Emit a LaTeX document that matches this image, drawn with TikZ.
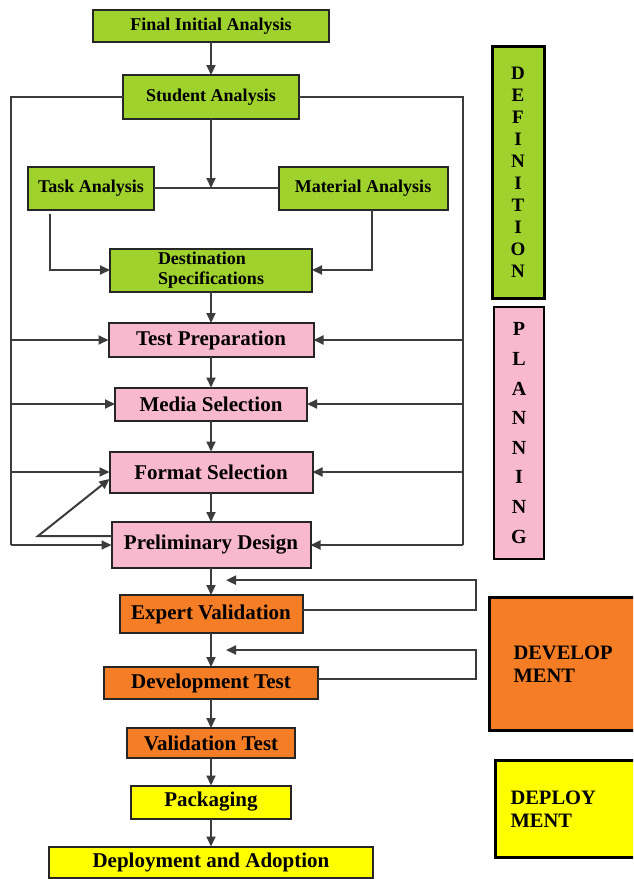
\documentclass[tikz,border=0pt]{standalone}
\usepackage{fontspec}
\setmainfont{Liberation Serif}
\usepackage{tikz}
\usetikzlibrary{arrows.meta, positioning, calc}
\definecolor{defgreen}{RGB}{160,210,45}
\definecolor{planpink}{RGB}{248,184,206}
\definecolor{devorange}{RGB}{245,125,38}
\definecolor{depyellow}{RGB}{255,255,0}
\definecolor{linegray}{RGB}{60,60,60}

\begin{document}
\begin{tikzpicture}[
        x=1pt, y=-1pt,
        box/.style={rectangle, draw=black!85, line width=2pt, align=center, inner sep=2pt, outer sep=0pt, font=\bfseries\fontsize{21}{23}\selectfont},
        greenbox/.style={box, fill=defgreen, font=\bfseries\fontsize{18}{20}\selectfont},
        pinkbox/.style={box, fill=planpink},
        orangebox/.style={box, fill=devorange},
        yellowbox/.style={box, fill=depyellow},
        phase/.style={rectangle, draw=black, line width=3pt, font=\bfseries\fontsize{20.5}{23}\selectfont},
        arrow/.style={-{Triangle[length=10pt, width=9pt]}, line width=2pt, draw=linegray},
        line/.style={line width=2pt, draw=linegray}
    ]
        \useasboundingbox (0,0) rectangle (633,879);
        \clip (0,0) rectangle (633,879);
        \fill[white] (0,0) rectangle (633,879);

        \node[greenbox, minimum width=236pt, minimum height=32pt] (final) at (211,26) {Final Initial Analysis};
        \node[greenbox, minimum width=176pt, minimum height=44pt] (student) at (211,97) {Student Analysis};
        \node[greenbox, minimum width=126pt, minimum height=43pt] (task) at (91,188) {Task Analysis};
        \node[greenbox, minimum width=169pt, minimum height=43pt] (material) at (363,188) {Material Analysis};
        \node[greenbox, minimum width=202pt, minimum height=43pt, align=left] (destination) at (211,270) {Destination\\Specifications};
        \node[pinkbox, minimum width=205pt, minimum height=34pt] (testprep) at (211,340) {Test Preparation};
        \node[pinkbox, minimum width=192pt, minimum height=33pt] (media) at (211,404) {Media Selection};
        \node[pinkbox, minimum width=203pt, minimum height=41pt] (format) at (211,472) {Format Selection};
        \node[pinkbox, minimum width=199pt, minimum height=46pt] (prelim) at (211,545) {Preliminary Design};
        \node[orangebox, minimum width=183pt, minimum height=38pt] (expert) at (211,614) {Expert Validation};
        \node[orangebox, minimum width=214pt, minimum height=32pt] (devtest) at (211,683) {Development Test};
        \node[orangebox, minimum width=168pt, minimum height=30pt] (valtest) at (211,743) {Validation Test};
        \node[yellowbox, minimum width=160pt, minimum height=33pt] (packaging) at (211,802) {Packaging};
        \node[yellowbox, minimum width=324pt, minimum height=31pt] (deploy) at (211,862) {Deployment and Adoption};

        \node[phase, fill=defgreen, minimum width=52pt, minimum height=252pt, align=center, font=\bfseries\fontsize{19}{22}\selectfont] (definition) at (518,172) {D\\E\\F\\I\\N\\I\\T\\I\\O\\N};
        \node[phase, fill=planpink, line width=2pt, minimum width=50pt, minimum height=252pt, align=center, font=\bfseries\fontsize{20}{29.6}\selectfont] (planning) at (519,433) {P\\L\\A\\N\\N\\I\\N\\G};
        \node[phase, fill=devorange, anchor=west, minimum height=133pt, text width=130pt, inner xsep=24pt, align=left] (development) at (488,664) {DEVELOP\\MENT};
        \node[phase, fill=depyellow, anchor=west, minimum height=97pt, text width=130pt, inner xsep=15pt, align=left] (deployment) at (494,809) {DEPLOY\\MENT};

        \coordinate (leftrail) at (11,97);
        \coordinate (rightrail) at (463,97);
        \coordinate (fork) at (38,536);
        \coordinate (loopx) at (476,0);
        \coordinate[xshift=15pt] (fbexpert) at ($(prelim.south)!.45!(expert.north)$);
        \coordinate[xshift=15pt] (fbdev) at ($(expert.south)!.5!(devtest.north)$);

        \draw[arrow] (final) -- (student);
        \draw[line] (task) -- (material);
        \draw[arrow] (student) -- (student |- task);
        \draw[arrow] ([xshift=-41pt, yshift=-4pt]task.south) |- (destination.west);
        \draw[arrow] ([xshift=9pt]material.south) |- (destination.east);

        \foreach \a/\b in {destination/testprep, testprep/media, media/format, format/prelim, prelim/expert, expert/devtest, devtest/valtest, valtest/packaging, packaging/deploy}
            \draw[arrow] (\a) -- (\b);

        \draw[line] (student.west) -- (leftrail) -- (leftrail |- prelim.west);
        \draw[line] (student.east) -- (rightrail) -- (rightrail |- prelim.east);
        \foreach \stage in {testprep, media, format, prelim} {
            \draw[arrow] (leftrail |- \stage.west) -- (\stage.west);
            \draw[arrow] (rightrail |- \stage.east) -- (\stage.east);
        }
        \draw[arrow] ([yshift=9pt]prelim.west) -- (fork) -- ([yshift=-7pt]format.west);

        \draw[arrow] ([yshift=4pt]expert.east) -| (loopx |- fbexpert) -- (fbexpert);
        \draw[arrow] ([yshift=4pt]devtest.east) -| (loopx |- fbdev) -- (fbdev);
    \end{tikzpicture}
\end{document}
